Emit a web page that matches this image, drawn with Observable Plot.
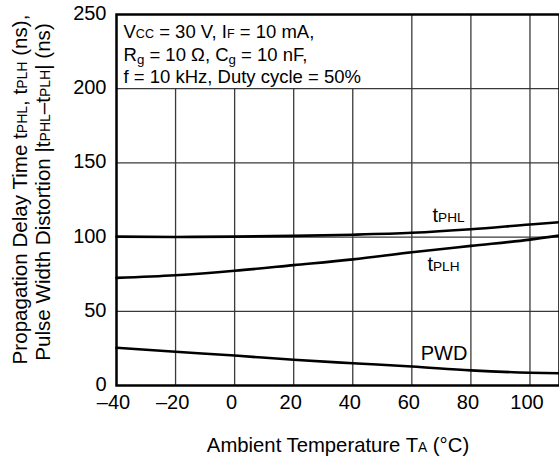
<!DOCTYPE html>
<html>
<head>
<meta charset="utf-8">
<script src="https://cdn.jsdelivr.net/npm/d3@7"></script>
<script src="https://cdn.jsdelivr.net/npm/@observablehq/plot@0.6"></script>
<style>
  html, body { margin: 0; padding: 0; background: white; }
</style>
</head>
<body>
<script>
// ---- data ----
const temps = [-40, -20, 0, 20, 40, 60, 80, 100, 110];
const tPHL  = [100.3, 100.1, 100.3, 100.8, 101.6, 102.9, 105.3, 108.5, 110];
const tPLH  = [72.5, 74.3, 77.3, 81.1, 85.0, 89.8, 94.1, 98.3, 101];
const PWD   = [25.4, 22.7, 20.2, 17.3, 15.0, 12.8, 10.2, 8.6, 8.2];
const xTicks = [-40, -20, 0, 20, 40, 60, 80, 100];
const yTicks = [0, 50, 100, 150, 200, 250];
const gridX = [-20, 0, 20, 40, 60, 80, 100];
const gridY = [50, 100, 150, 200];
const conditions = [
  "V[CC] = 30 V, I[F] = 10 mA,",
  "R_{g} = 10 Ω, C_{g} = 10 nF,",
  "f = 10 kHz, Duty cycle = 50%"
];
const yTitle = [
  "Propagation Delay Time t[PHL], t[PLH] (ns),",
  "Pulse Width Distortion |t[PHL]–t[PLH]| (ns)"
];
const xTitle = "Ambient Temperature T[A] (°C)";
const seriesNames = ["t[PHL]", "t[PLH]", "PWD"];

const font = "'Liberation Sans', Arial, Helvetica, sans-serif";
const series = [tPHL, tPLH, PWD];
const rows = series.flatMap((vals, s) => temps.map((t, i) => ({s, t, v: vals[i]})));

const chart = Plot.plot({
  width: 559,
  height: 459,
  marginLeft: 116,
  marginRight: 0,
  marginTop: 14,
  marginBottom: 74,
  x: {domain: [-40, 110]},
  y: {domain: [0, 250]},
  style: {fontFamily: font, fontSize: "20px", color: "black", background: "white", overflow: "visible"},
  marks: [
    Plot.ruleY(gridY, {stroke: "#3a3a3a", strokeWidth: 1.3}),
    Plot.ruleX(gridX, {y1: 0, y2: d => d <= 40 ? 200 : 250, stroke: "#3a3a3a", strokeWidth: 1.3}),
    Plot.line(rows, {x: "t", y: "v", z: "s", curve: "monotone-x", stroke: "black", strokeWidth: 2.6}),
    Plot.frame({stroke: "black", strokeWidth: 2.5}),
    Plot.axisX({ticks: xTicks, tickSize: 0, tickPadding: 9, dx: -3, fontSize: 20, label: null,
      tickFormat: d => d < 0 ? "–" + Math.abs(d) : String(d)}),
    Plot.axisY({ticks: yTicks, tickSize: 0, tickPadding: 10, dy: -1, fontSize: 20, label: null}),
    ...conditions.map((c, i) => Plot.text([c], {text: d => d, frameAnchor: "top-left", textAnchor: "start",
      lineAnchor: "middle", dx: 7, dy: 18 + i * 22.5, fontSize: 18.5})),
    Plot.text([seriesNames[0]], {text: d => d, x: 67, y: 114.3, textAnchor: "start", lineAnchor: "middle", fontSize: 20}),
    Plot.text([seriesNames[1]], {text: d => d, x: 65.3, y: 81.8, textAnchor: "start", lineAnchor: "middle", fontSize: 20}),
    Plot.text([seriesNames[2]], {text: d => d, x: 63, y: 21.2, textAnchor: "start", lineAnchor: "middle", fontSize: 20}),
    Plot.text([yTitle[0]], {text: d => d, frameAnchor: "left", textAnchor: "middle", lineAnchor: "middle",
      rotate: -90, dx: -96.5, dy: -10.5, fontSize: 20.6}),
    Plot.text([yTitle[1]], {text: d => d, frameAnchor: "left", textAnchor: "middle", lineAnchor: "middle",
      rotate: -90, dx: -73, dy: -8, fontSize: 20.6}),
    Plot.text([xTitle], {text: d => d, frameAnchor: "bottom", textAnchor: "middle", lineAnchor: "middle",
      dy: 60, fontSize: 20.3})
  ]
});

document.body.append(chart);

// Rich text: [ABC] -> small caps on baseline, _{x} -> lowered subscript
function richify(svg) {
  const ns = "http://www.w3.org/2000/svg";
  svg.querySelectorAll("text").forEach(el => {
    const leaves = el.querySelector("tspan") ? Array.from(el.querySelectorAll("tspan")) : [el];
    leaves.forEach(n => {
      const s = n.textContent;
      if (!/\[|_\{/.test(s)) return;
      const fs = parseFloat(getComputedStyle(n).fontSize) || 20;
      n.textContent = "";
      const re = /\[([^\]]*)\]|_\{([^}]*)\}/g;
      let last = 0, m, pendingReset = 0;
      const plain = txt => {
        const t = document.createElementNS(ns, "tspan");
        t.textContent = txt;
        if (pendingReset) { t.setAttribute("dy", -pendingReset); pendingReset = 0; }
        n.appendChild(t);
      };
      while ((m = re.exec(s))) {
        if (m.index > last) plain(s.slice(last, m.index));
        const t = document.createElementNS(ns, "tspan");
        if (m[1] !== undefined) {
          t.textContent = m[1];
          t.setAttribute("font-size", (fs * 0.68).toFixed(2));
          if (pendingReset) { t.setAttribute("dy", -pendingReset); pendingReset = 0; }
        } else {
          t.textContent = m[2];
          t.setAttribute("font-size", (fs * 0.72).toFixed(2));
          const sh = fs * 0.18;
          t.setAttribute("dy", sh - pendingReset);
          pendingReset = sh;
        }
        n.appendChild(t);
        last = re.lastIndex;
      }
      if (last < s.length) plain(s.slice(last));
    });
  });
}
richify(chart);
</script>
</body>
</html>
